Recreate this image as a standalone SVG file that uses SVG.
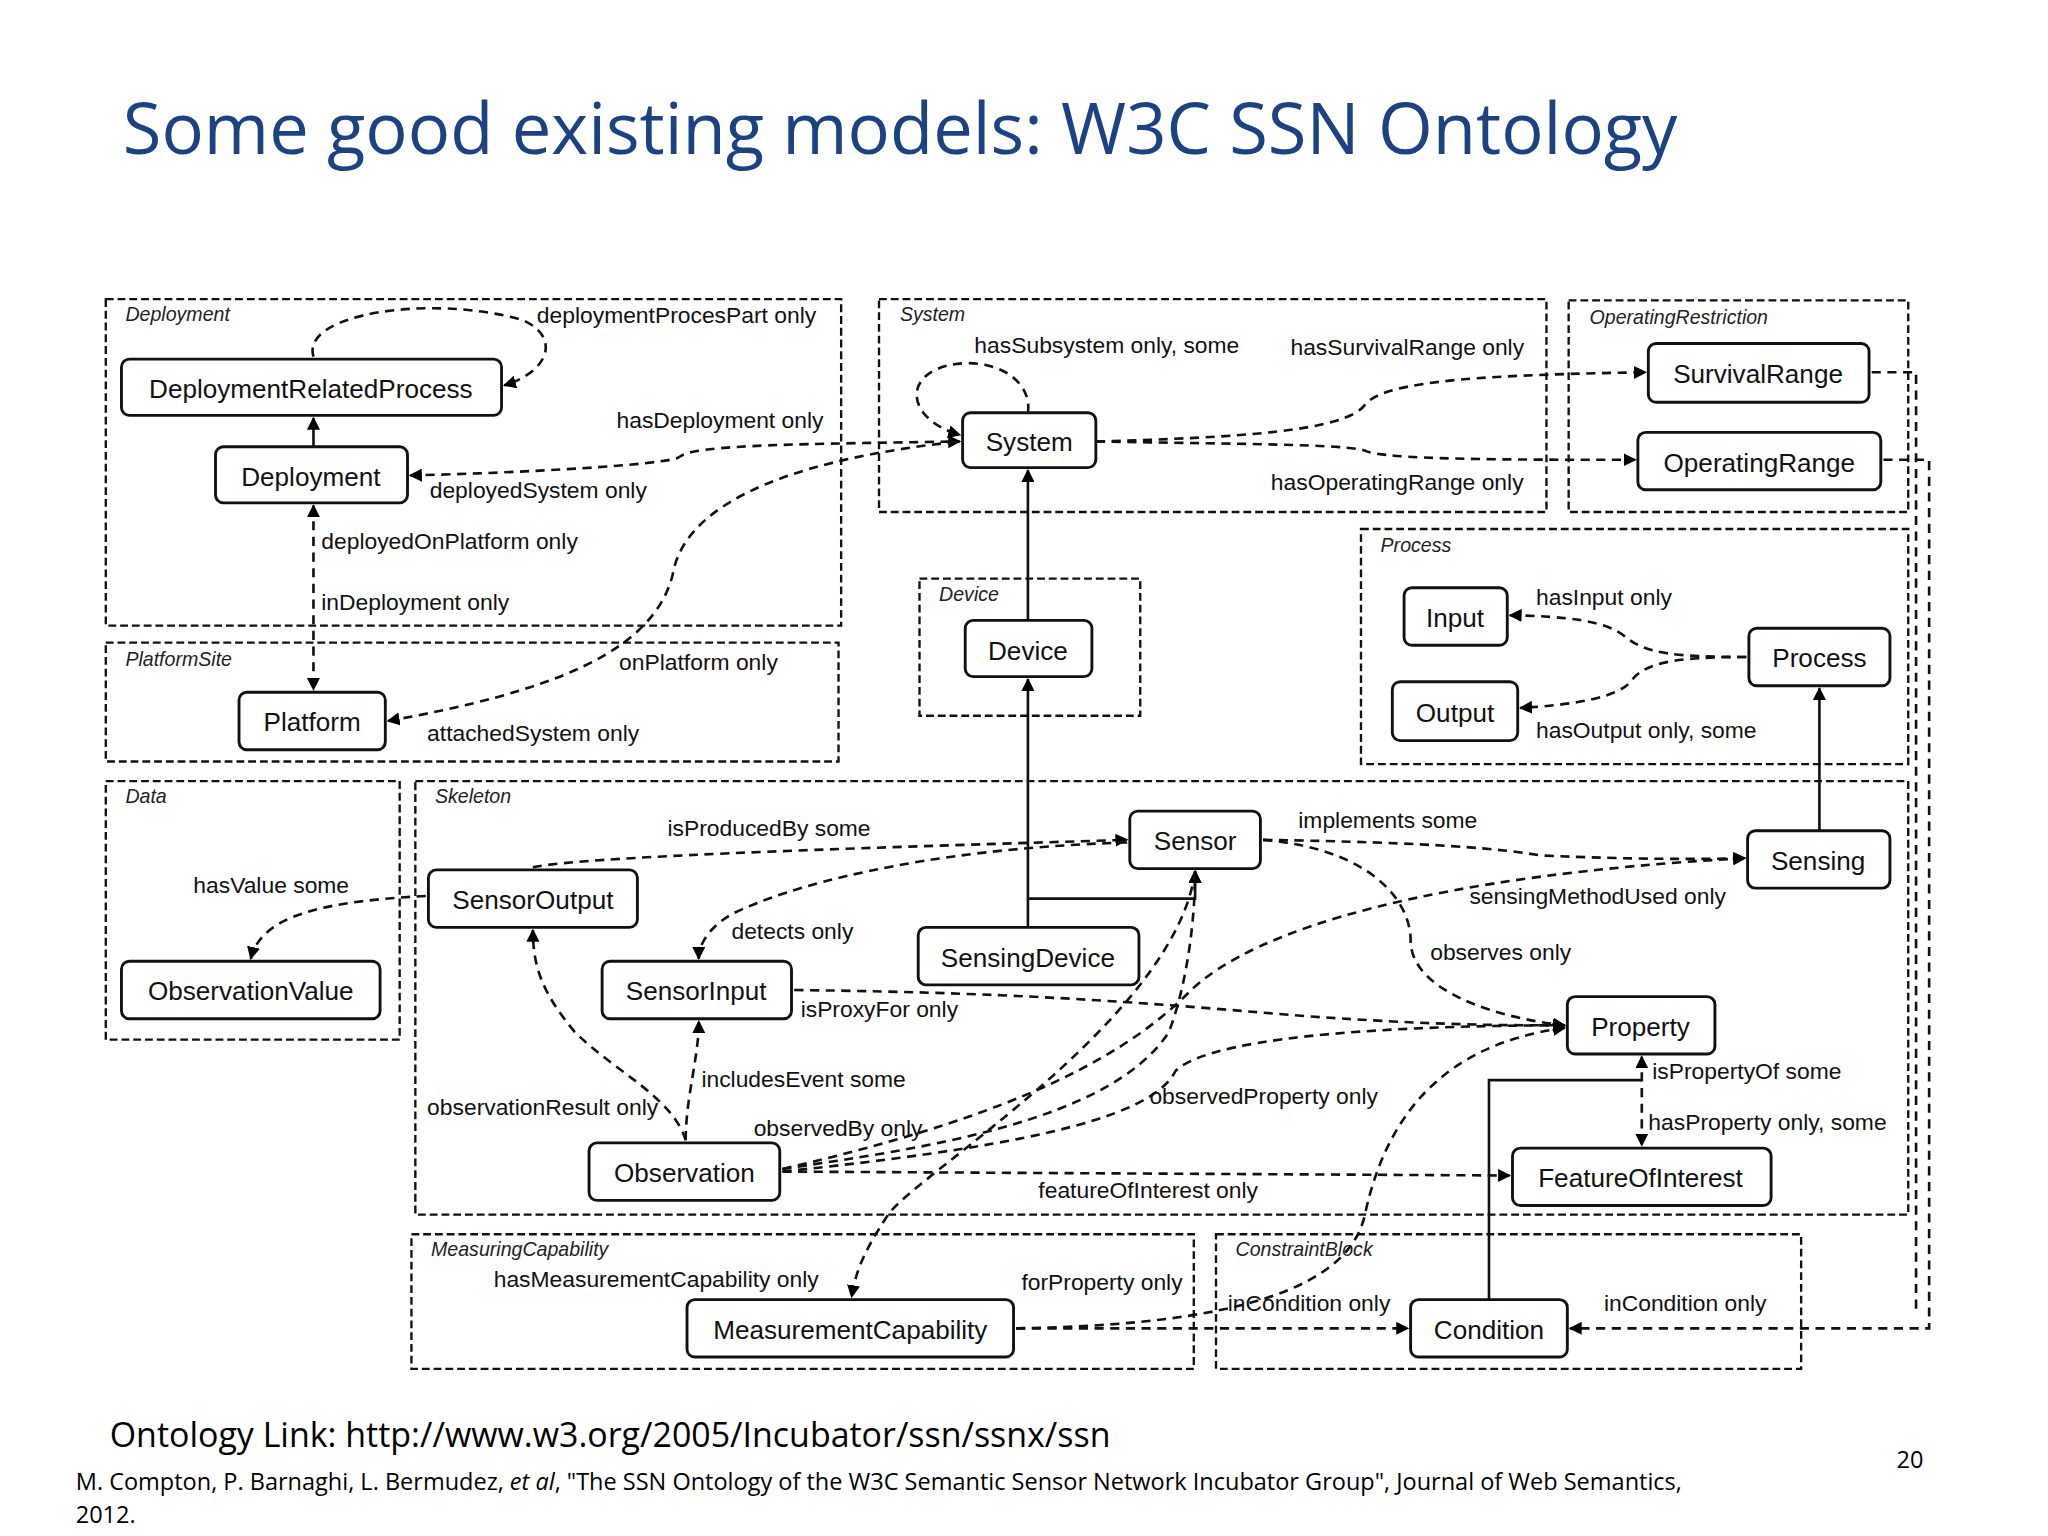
<svg xmlns="http://www.w3.org/2000/svg" width="2048" height="1536" viewBox="0 0 2048 1536">
<defs>
<marker id="a" viewBox="0 0 10 10" refX="9" refY="5" markerWidth="10" markerHeight="10" markerUnits="userSpaceOnUse" orient="auto-start-reverse"><path d="M0,0 L10,5 L0,10 z" fill="#000"/></marker>
</defs>
<style>
.grp{fill:none;stroke:#111;stroke-width:1.8;stroke-dasharray:6,3}
.gl{font-family:"Liberation Sans",Arial,sans-serif;font-style:italic;font-size:15px;fill:#222}
.nd{fill:#fff;stroke:#111;stroke-width:2.2}
.nt{font-family:"Liberation Sans",Arial,sans-serif;font-size:20px;fill:#111;text-anchor:middle}
.lb{font-family:"Liberation Sans",Arial,sans-serif;font-size:17.5px;fill:#111}
.d{fill:none;stroke:#111;stroke-width:2;stroke-dasharray:7,5}
.s{fill:none;stroke:#111;stroke-width:2}
</style>
<rect width="2048" height="1536" fill="#fff"/>
<g transform="scale(1.30612)">
<text x="94" y="118" font-family="'Open Sans',Lato,sans-serif" font-size="54" fill="#1b4384">Some good existing models: W3C SSN Ontology</text>
<g id="groups">
<rect class="grp" x="81" y="229" width="563" height="250"/><text class="gl" x="96" y="246">Deployment</text>
<rect class="grp" x="81" y="492" width="561" height="91"/><text class="gl" x="96" y="510">PlatformSite</text>
<rect class="grp" x="673" y="229" width="511" height="163"/><text class="gl" x="689" y="246">System</text>
<rect class="grp" x="1201" y="230" width="260" height="162"/><text class="gl" x="1217" y="248">OperatingRestriction</text>
<rect class="grp" x="704" y="443" width="169" height="105"/><text class="gl" x="719" y="460">Device</text>
<rect class="grp" x="1042" y="405" width="419" height="180"/><text class="gl" x="1057" y="423">Process</text>
<rect class="grp" x="81" y="598" width="225" height="198"/><text class="gl" x="96" y="615">Data</text>
<rect class="grp" x="318" y="598" width="1143" height="332"/><text class="gl" x="333" y="615">Skeleton</text>
<rect class="grp" x="315" y="945" width="599" height="103"/><text class="gl" x="330" y="962">MeasuringCapability</text>
<rect class="grp" x="931" y="945" width="448" height="103"/><text class="gl" x="946" y="962">ConstraintBlock</text>
</g>
<g id="connectors">
<path class="d" d="M240,273 C230,240 330,225 400,245 C430,258 420,285 386,295" marker-end="url(#a)"/>
<path class="s" d="M240,342 L240,320" marker-end="url(#a)"/>
<path class="d" d="M314,364 C400,362 510,356 520,350 C530,340 620,340 735,338" marker-start="url(#a)" marker-end="url(#a)"/>
<path class="d" d="M240,387 L240,528" marker-start="url(#a)" marker-end="url(#a)"/>
<path class="d" d="M297,552 C420,530 500,500 515,440 C525,380 620,350 735,338" marker-start="url(#a)"/>
<path class="d" d="M787,316 C790,295 770,278 740,278 C690,280 690,320 735,333" marker-end="url(#a)"/>
<path class="d" d="M839,338 C950,335 1030,330 1045,310 C1060,290 1150,287 1260,285" marker-end="url(#a)"/>
<path class="d" d="M839,338 C950,340 1030,340 1045,345 C1060,352 1150,352 1252,352" marker-end="url(#a)"/>
<path class="s" d="M787,475 L787,360" marker-end="url(#a)"/>
<path class="s" d="M787,710 L787,520" marker-end="url(#a)"/>
<path class="s" d="M787,688 L915,688 L915,667" marker-end="url(#a)"/>
<path class="d" d="M1337,503 C1280,503 1260,500 1245,488 C1230,475 1200,472 1156,471" marker-end="url(#a)"/>
<path class="d" d="M1337,503 C1280,503 1260,508 1250,520 C1240,535 1200,540 1164,542" marker-end="url(#a)"/>
<path class="s" d="M1393,636 L1393,527" marker-end="url(#a)"/>
<path class="d" d="M967,643 C1100,645 1150,650 1180,655 C1250,658 1300,658 1336,657" marker-end="url(#a)"/>
<path class="d" d="M599,895 C750,860 850,820 910,760 C960,710 1100,670 1336,657" marker-end="url(#a)"/>
<path class="d" d="M408,664 C450,655 700,648 863,643" marker-end="url(#a)"/>
<path class="d" d="M863,645 C700,650 600,680 560,700 C540,712 535,725 535,734" marker-end="url(#a)"/>
<path class="d" d="M967,643 C1050,650 1080,690 1080,720 C1080,760 1150,780 1198,785" marker-end="url(#a)"/>
<path class="d" d="M608,758 C800,760 900,770 1000,778 C1100,785 1150,785 1198,785" marker-end="url(#a)"/>
<path class="d" d="M525,873 C515,840 470,820 440,790 C415,760 408,740 408,712" marker-end="url(#a)"/>
<path class="d" d="M525,873 C525,840 535,810 535,782" marker-end="url(#a)"/>
<path class="d" d="M599,895 C700,880 850,860 895,790 C910,750 915,700 915,667" marker-end="url(#a)"/>
<path class="d" d="M599,897 C760,880 880,860 900,820 C930,790 1100,785 1198,785" marker-end="url(#a)"/>
<path class="d" d="M599,897 L1156,900" marker-end="url(#a)"/>
<path class="d" d="M1257,809 L1257,877" marker-start="url(#a)" marker-end="url(#a)"/>
<path class="s" d="M1140,995 L1140,827 L1257,827"/>
<path class="d" d="M915,667 C900,780 700,900 680,930 C660,960 655,975 652,993" marker-end="url(#a)"/>
<path class="d" d="M778,1017 C900,1015 1030,1000 1045,930 C1060,860 1100,800 1198,787" marker-end="url(#a)"/>
<path class="d" d="M778,1017 L1078,1017" marker-end="url(#a)"/>
<path class="d" d="M1433,285 L1467,285 L1467,1005"/>
<path class="d" d="M1442,352 L1477,352 L1477,1017 L1202,1017" marker-end="url(#a)"/>
<path class="d" d="M326,686 C250,690 200,700 192,734" marker-end="url(#a)"/>
</g>
<g id="labels">
<text class="lb" x="411" y="247">deploymentProcesPart only</text>
<text class="lb" x="472" y="328">hasDeployment only</text>
<text class="lb" x="329" y="381">deployedSystem only</text>
<text class="lb" x="246" y="420">deployedOnPlatform only</text>
<text class="lb" x="246" y="467">inDeployment only</text>
<text class="lb" x="474" y="513">onPlatform only</text>
<text class="lb" x="327" y="567">attachedSystem only</text>
<text class="lb" x="746" y="270">hasSubsystem only, some</text>
<text class="lb" x="988" y="272">hasSurvivalRange only</text>
<text class="lb" x="973" y="375">hasOperatingRange only</text>
<text class="lb" x="1176" y="463">hasInput only</text>
<text class="lb" x="1176" y="565">hasOutput only, some</text>
<text class="lb" x="994" y="634">implements some</text>
<text class="lb" x="1125" y="692">sensingMethodUsed only</text>
<text class="lb" x="511" y="640">isProducedBy some</text>
<text class="lb" x="560" y="719">detects only</text>
<text class="lb" x="1095" y="735">observes only</text>
<text class="lb" x="613" y="779">isProxyFor only</text>
<text class="lb" x="327" y="854">observationResult only</text>
<text class="lb" x="537" y="832">includesEvent some</text>
<text class="lb" x="577" y="870">observedBy only</text>
<text class="lb" x="880" y="845">observedProperty only</text>
<text class="lb" x="795" y="917">featureOfInterest only</text>
<text class="lb" x="1265" y="826">isPropertyOf some</text>
<text class="lb" x="1262" y="865">hasProperty only, some</text>
<text class="lb" x="378" y="985">hasMeasurementCapability only</text>
<text class="lb" x="782" y="988">forProperty only</text>
<text class="lb" x="940" y="1004">inCondition only</text>
<text class="lb" x="1228" y="1004">inCondition only</text>
<text class="lb" x="148" y="684">hasValue some</text>
</g>
<g id="n-drp"><rect class="nd" x="93" y="275" width="291" height="43" rx="6"/><text class="nt" x="238" y="305">DeploymentRelatedProcess</text></g>
<g id="n-deployment"><rect class="nd" x="165" y="342" width="147" height="43" rx="6"/><text class="nt" x="238" y="372">Deployment</text></g>
<g id="n-platform"><rect class="nd" x="183" y="530" width="112" height="44" rx="6"/><text class="nt" x="239" y="560">Platform</text></g>
<g id="n-system"><rect class="nd" x="737" y="316" width="102" height="42" rx="6"/><text class="nt" x="788" y="345">System</text></g>
<g id="n-survival"><rect class="nd" x="1262" y="263" width="169" height="45" rx="6"/><text class="nt" x="1346" y="293">SurvivalRange</text></g>
<g id="n-oprange"><rect class="nd" x="1254" y="331" width="186" height="44" rx="6"/><text class="nt" x="1347" y="361">OperatingRange</text></g>
<g id="n-device"><rect class="nd" x="739" y="475" width="97" height="43" rx="6"/><text class="nt" x="787" y="505">Device</text></g>
<g id="n-input"><rect class="nd" x="1075" y="450" width="79" height="44" rx="6"/><text class="nt" x="1114" y="480">Input</text></g>
<g id="n-output"><rect class="nd" x="1066" y="522" width="96" height="45" rx="6"/><text class="nt" x="1114" y="553">Output</text></g>
<g id="n-process"><rect class="nd" x="1339" y="481" width="108" height="44" rx="6"/><text class="nt" x="1393" y="511">Process</text></g>
<g id="n-sensor"><rect class="nd" x="865" y="621" width="100" height="44" rx="6"/><text class="nt" x="915" y="651">Sensor</text></g>
<g id="n-sensing"><rect class="nd" x="1338" y="636" width="109" height="44" rx="6"/><text class="nt" x="1392" y="666">Sensing</text></g>
<g id="n-sensoroutput"><rect class="nd" x="328" y="666" width="160" height="44" rx="6"/><text class="nt" x="408" y="696">SensorOutput</text></g>
<g id="n-obsvalue"><rect class="nd" x="93" y="736" width="198" height="44" rx="6"/><text class="nt" x="192" y="766">ObservationValue</text></g>
<g id="n-sensingdevice"><rect class="nd" x="703" y="710" width="169" height="44" rx="6"/><text class="nt" x="787" y="740">SensingDevice</text></g>
<g id="n-sensorinput"><rect class="nd" x="461" y="736" width="145" height="44" rx="6"/><text class="nt" x="533" y="766">SensorInput</text></g>
<g id="n-property"><rect class="nd" x="1200" y="763" width="113" height="44" rx="6"/><text class="nt" x="1256" y="793">Property</text></g>
<g id="n-observation"><rect class="nd" x="451" y="875" width="146" height="44" rx="6"/><text class="nt" x="524" y="905">Observation</text></g>
<g id="n-foi"><rect class="nd" x="1158" y="879" width="198" height="44" rx="6"/><text class="nt" x="1256" y="909">FeatureOfInterest</text></g>
<g id="n-mc"><rect class="nd" x="526" y="995" width="250" height="44" rx="6"/><text class="nt" x="651" y="1025">MeasurementCapability</text></g>
<g id="n-condition"><rect class="nd" x="1080" y="995" width="120" height="44" rx="6"/><text class="nt" x="1140" y="1025">Condition</text></g>
<text x="84" y="1108" font-family="'Open Sans',Lato,sans-serif" font-size="26" fill="#000">Ontology Link: http://www.w3.org/2005/Incubator/ssn/ssnx/ssn</text>
<text x="58" y="1141" font-family="'Open Sans',Lato,sans-serif" font-size="18" fill="#000">M. Compton, P. Barnaghi,  L. Bermudez, <tspan font-style="italic">et al</tspan>, "The SSN Ontology of the W3C Semantic Sensor Network Incubator Group", Journal of Web Semantics,</text>
<text x="58" y="1166" font-family="'Open Sans',Lato,sans-serif" font-size="18" fill="#000">2012.</text>
<text x="1452" y="1124" font-family="'Open Sans',Lato,sans-serif" font-size="18" fill="#000">20</text>
</g>
</svg>
